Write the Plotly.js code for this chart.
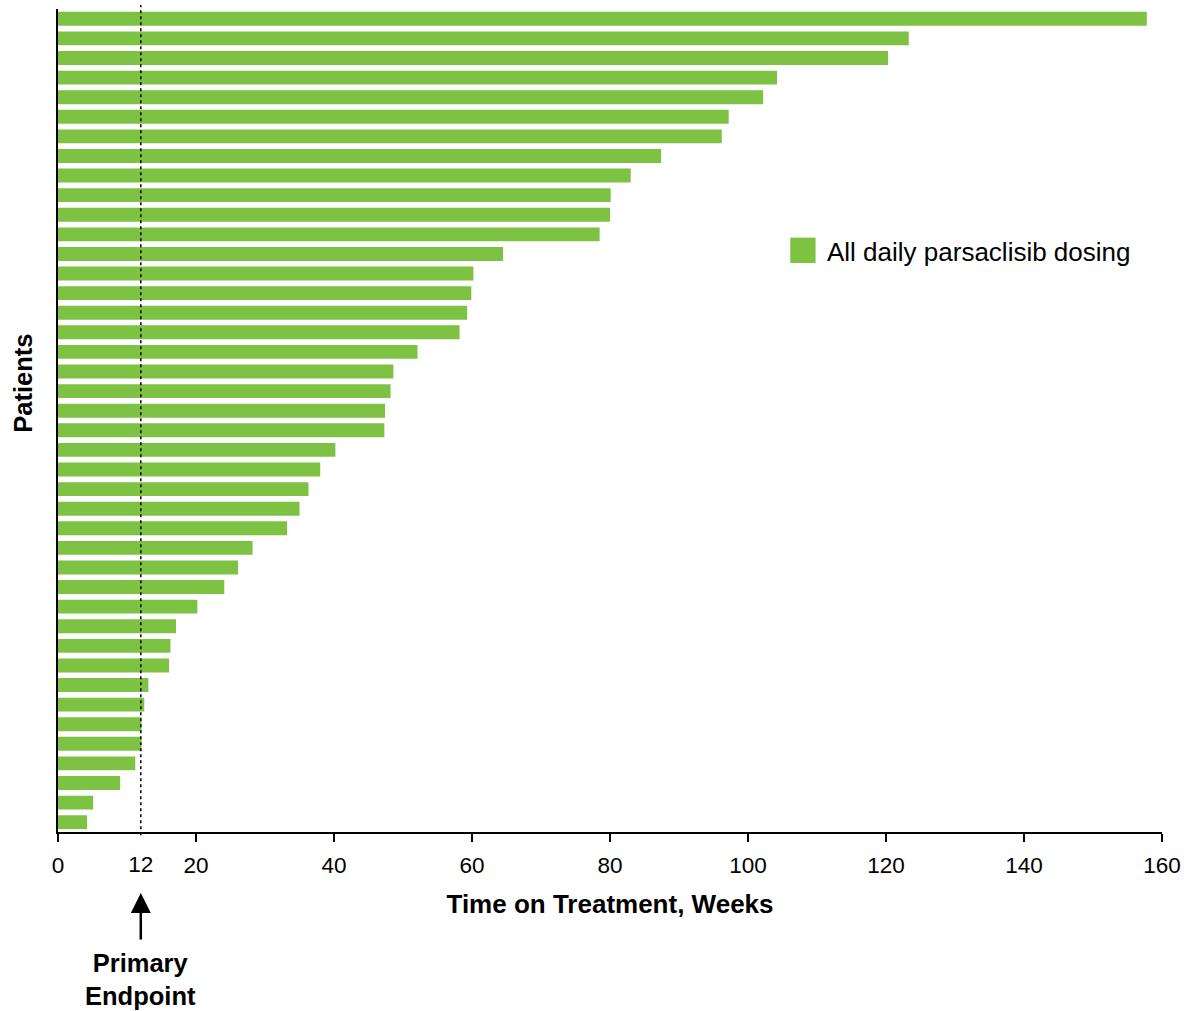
<!DOCTYPE html>
<html>
<head>
<meta charset="utf-8">
<script src="https://cdn.plot.ly/plotly-3.0.1.min.js"></script>
<style>
  html, body { margin: 0; padding: 0; background: #ffffff; }
  #chart { width: 1184px; height: 1011px; }
</style>
</head>
<body>
<div id="chart"></div>
<script>
// Weeks on treatment per patient, longest first
const patientIds = [
  1, 2, 3, 4, 5, 6, 7, 8, 9, 10, 11, 12, 13, 14,
  15, 16, 17, 18, 19, 20, 21, 22, 23, 24, 25, 26, 27, 28,
  29, 30, 31, 32, 33, 34, 35, 36, 37, 38, 39, 40, 41, 42
];
const weeksOnTreatment = [
  157.8, 123.3, 120.3, 104.2, 102.2, 97.2, 96.2, 87.4, 83.0, 80.1, 80.0, 78.5, 64.5, 60.2,
  59.9, 59.3, 58.2, 52.1, 48.6, 48.2, 47.4, 47.3, 40.2, 38.0, 36.3, 35.0, 33.2, 28.2,
  26.1, 24.1, 20.2, 17.1, 16.3, 16.1, 13.1, 12.5, 12.1, 12.1, 11.2, 9.0, 5.1, 4.2
];
const seriesName = 'All daily parsaclisib dosing';
const majorTicks = [0, 20, 40, 60, 80, 100, 120, 140, 160];
const endpointWeek = [12];
const xTitle = 'Time on Treatment, Weeks';
const yTitle = 'Patients';
const endpointLabel = 'Primary<br>Endpoint';

const GREEN = '#7dc242';
const NARROW = '"Liberation Sans Narrow", "Arial Narrow", "Liberation Sans", Arial, sans-serif';
const SANS = '"Liberation Sans", Arial, Helvetica, sans-serif';

const trace = {
  type: 'bar',
  orientation: 'h',
  name: seriesName,
  x: weeksOnTreatment,
  y: patientIds,
  marker: { color: GREEN, line: { width: 0 } },
  showlegend: false,
  hoverinfo: 'x'
};

// invisible carrier so the endpoint label sits on its own axis without a tick mark
const endpointAxisTrace = {
  type: 'scatter',
  mode: 'markers',
  x: endpointWeek,
  y: [patientIds[0]],
  xaxis: 'x2',
  marker: { opacity: 0 },
  showlegend: false,
  hoverinfo: 'skip'
};

const tickFont = { family: NARROW, size: 22.5, color: '#000000' };

const layout = {
  width: 1184,
  height: 1011,
  margin: { l: 58, r: 22, t: 9, b: 179 },
  paper_bgcolor: '#ffffff',
  plot_bgcolor: '#ffffff',
  bargap: 0.29,
  showlegend: false,
  xaxis: {
    range: [0, 160],
    tickmode: 'array',
    tickvals: majorTicks,
    ticktext: majorTicks.map(String),
    ticks: 'outside',
    ticklen: 8,
    tickwidth: 2,
    tickcolor: '#000000',
    ticklabelstandoff: 4,
    showline: true,
    linewidth: 2,
    linecolor: '#000000',
    showgrid: false,
    zeroline: false,
    tickfont: tickFont,
    title: {
      text: xTitle,
      font: { family: SANS, size: 26, color: '#000000', weight: 'bold' },
      standoff: 18
    }
  },
  xaxis2: {
    overlaying: 'x',
    side: 'bottom',
    anchor: 'y',
    range: [0, 160],
    tickmode: 'array',
    tickvals: endpointWeek,
    ticktext: endpointWeek.map(String),
    ticks: 'outside',
    ticklen: 8,
    tickcolor: 'rgba(0,0,0,0)',
    ticklabelstandoff: 4,
    showline: false,
    showgrid: false,
    zeroline: false,
    tickfont: tickFont
  },
  yaxis: {
    range: [42.5, 0.5],
    showline: true,
    linewidth: 2,
    linecolor: '#000000',
    ticks: '',
    showticklabels: false,
    showgrid: false,
    zeroline: false
  },
  shapes: [
    {
      type: 'line',
      xref: 'x', yref: 'paper',
      x0: endpointWeek[0], x1: endpointWeek[0],
      y0: -0.004, y1: 1.005,
      line: { color: '#000000', width: 1.5, dash: 'dot' },
      layer: 'above'
    },
    {
      type: 'rect',
      xref: 'paper', yref: 'paper',
      x0: 0.6633, x1: 0.6862,
      y0: 0.6914, y1: 0.7222,
      fillcolor: GREEN,
      line: { width: 0 }
    }
  ],
  annotations: [
    {
      xref: 'paper', yref: 'paper',
      x: 0.6950, y: 0.7045,
      xanchor: 'left', yanchor: 'middle',
      text: seriesName,
      showarrow: false,
      font: { family: SANS, size: 26, color: '#000000' }
    },
    {
      xref: 'paper', yref: 'paper',
      x: -0.0314, y: 0.545,
      xanchor: 'center', yanchor: 'middle',
      text: yTitle,
      textangle: -90,
      showarrow: false,
      font: { family: SANS, size: 25.5, color: '#000000', weight: 'bold' }
    },
    {
      xref: 'x', yref: 'paper',
      x: endpointWeek[0], y: -0.0741,
      text: '',
      showarrow: true,
      axref: 'pixel', ayref: 'pixel',
      ax: 0, ay: 48,
      arrowhead: 2,
      arrowsize: 1.6,
      arrowwidth: 2.5,
      arrowcolor: '#000000'
    },
    {
      xref: 'x', yref: 'paper',
      x: endpointWeek[0], y: -0.1798,
      xanchor: 'center', yanchor: 'middle',
      text: endpointLabel,
      showarrow: false,
      font: { family: SANS, size: 25.5, color: '#000000', weight: 'bold' }
    }
  ]
};

Plotly.newPlot('chart', [trace, endpointAxisTrace], layout, { displayModeBar: false, staticPlot: true });
</script>
</body>
</html>
